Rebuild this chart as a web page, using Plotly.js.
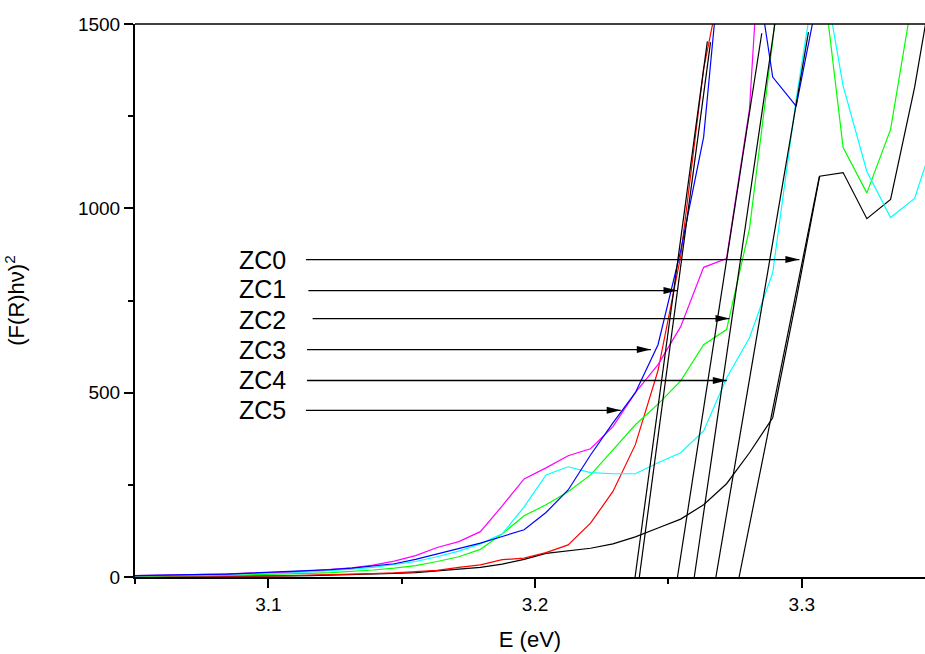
<!DOCTYPE html>
<html>
<head>
<meta charset="utf-8">
<script src="https://cdn.plot.ly/plotly-3.0.1.min.js"></script>
<style>html,body{margin:0;padding:0;background:#fff;}</style>
</head>
<body>
<div id="chart" style="width:925px;height:654px;"></div>
<script>
// Photon energy (eV), one point per wavelength step
const energy = [3.0467, 3.0542, 3.0617, 3.0693, 3.0769, 3.0846, 3.0923, 3.1000, 3.1078, 3.1156,
  3.1234, 3.1313, 3.1392, 3.1472, 3.1552, 3.1633, 3.1714, 3.1795, 3.1877, 3.1959,
  3.2041, 3.2124, 3.2208, 3.2292, 3.2376, 3.2461, 3.2546, 3.2632, 3.2718, 3.2804,
  3.2891, 3.2979, 3.3067, 3.3155, 3.3244, 3.3333, 3.3423, 3.3514];

// (F(R)hv)^2 series
const blackVals = [1,1,1,1,1.2,1.5,2,2.5,3,4,5,6,8,10,12,16,21,26,35,48,64,71,78,90,109,133,157,196,253,337,432,752,1087,1097,972,1024,1328,1710];
const redVals = [1,1,1,1.2,1.5,2,2.5,3,3.5,4.5,5.5,7,9,11,14,18,26,33,47,51,66,87,146,232,359,560,870,1378,1690];
const blueVals = [3.5,4,5,6,7,8,10,12,14,17,20,24,29,36,48,63,77,92,110,128,175,236,331,418,500,630,885,1193,1850,1770,1356,1277,1600];
const magentaVals = [3.5,4,5,6,7,8.5,10,12,14,17,20,25,32,43,58,80,96,123,193,266,296,329,348,408,500,576,679,840,864,1269,2300];
const cyanVals = [3,3,4,5,6,7,8,10,12,14,17,21,26,33,42,55,70,90,117,190,277,299,283,280,280,310,337,396,540,649,825,1296,1700,1332,1100,975,1027,1228];
const greenVals = [2,2,2.5,3,3.5,4.5,5.5,6.5,8,10,12,15,19,24,31,42,55,75,117,166,196,231,277,345,413,469,532,630,671,945,1454,2070,1700,1165,1042,1214,1600,2000];

// Tangent (extrapolation) lines: start on the energy axis, end point
const tangentStartE = [3.2765, 3.2391, 3.2597, 3.2375, 3.2678, 3.2534];
const tangentEndE   = [3.3066, 3.2658, 3.2900, 3.2646, 3.3025, 3.2850];
const tangentEndY   = [1087, 1451, 1505, 1453, 1478, 1475];

// Labels
const sampleNames = ['ZC0', 'ZC1', 'ZC2', 'ZC3', 'ZC4', 'ZC5'];
const xTicks = [3.1, 3.2, 3.3];
const yTicks = [0, 500, 1000, 1500];

const FONT = 'Arial, "Liberation Sans", sans-serif';

function curve(vals, color) {
  return {
    x: energy.slice(0, vals.length), y: vals, type: 'scatter', mode: 'lines',
    line: {color: color, width: 1.2}, hoverinfo: 'skip'
  };
}

const traces = [
  curve(blackVals, '#000000'),
  curve(redVals, '#ff0000'),
  curve(greenVals, '#00ff00'),
  curve(cyanVals, '#00ffff'),
  curve(magentaVals, '#ff00ff'),
  curve(blueVals, '#0000ff')
];
for (let i = 0; i < tangentStartE.length; i++) {
  traces.push({
    x: [tangentStartE[i], tangentEndE[i]], y: [0, tangentEndY[i]],
    type: 'scatter', mode: 'lines', line: {color: '#000', width: 1.2}, hoverinfo: 'skip'
  });
}

// Arrow placement (layout annotations)
const labelStartE = 3.0881;
const labelY  = [859, 780, 698, 617, 535, 454];
const arrowY  = [861, 777, 701, 617, 533, 452];
const arrowTailE = [3.1141, 3.1150, 3.1166, 3.1145, 3.1145, 3.1141];
const arrowTipE  = [3.2991, 3.2534, 3.2729, 3.2434, 3.2719, 3.2321];

const shapes = [
  {type: 'line', xref: 'paper', yref: 'paper', x0: 0, x1: 1, y0: 1, y1: 1, line: {color: '#000', width: 1.3}}
];
const annotations = [];
for (let i = 0; i < sampleNames.length; i++) {
  annotations.push({
    x: labelStartE, y: labelY[i], xref: 'x', yref: 'y', xanchor: 'left', yanchor: 'middle',
    text: sampleNames[i], showarrow: false, font: {family: FONT, size: 25, color: '#000'}
  });
  shapes.push({
    type: 'line', xref: 'x', yref: 'y', x0: arrowTailE[i], x1: arrowTipE[i], y0: arrowY[i], y1: arrowY[i],
    line: {color: '#000', width: 1.3}
  });
  shapes.push({
    type: 'path', xref: 'x', yref: 'y', xsizemode: 'pixel', ysizemode: 'pixel',
    xanchor: arrowTipE[i], yanchor: arrowY[i],
    path: 'M0,0 L-14,3.5 L-14,-3.5 Z', fillcolor: '#000', line: {width: 0}
  });
}

const layout = {
  width: 925, height: 654,
  margin: {l: 135, r: 0, t: 24, b: 77},
  paper_bgcolor: '#fff', plot_bgcolor: '#fff',
  showlegend: false,
  font: {family: FONT, color: '#000'},
  xaxis: {
    range: [3.05, 3.3462], tickmode: 'array', tickvals: xTicks, ticktext: xTicks.map(v => v.toFixed(1)),
    ticks: 'outside', ticklen: 9, tickwidth: 2, tickcolor: '#000',
    showline: true, linewidth: 2, linecolor: '#000', showgrid: false, zeroline: false,
    minor: {tickmode: 'array', tickvals: [3.05, 3.15, 3.25], ticks: 'outside', ticklen: 5, tickwidth: 2, tickcolor: '#000', showgrid: false},
    tickfont: {family: FONT, size: 19, color: '#000'},
    title: {text: 'E (eV)', font: {family: FONT, size: 22, color: '#000'}, standoff: 18},
    automargin: false
  },
  yaxis: {
    range: [0, 1500], tickmode: 'array', tickvals: yTicks, ticktext: yTicks.map(String),
    ticks: 'outside', ticklen: 9, tickwidth: 2, tickcolor: '#000',
    showline: true, linewidth: 2, linecolor: '#000', showgrid: false, zeroline: false,
    minor: {tickmode: 'array', tickvals: [250, 750, 1250], ticks: 'outside', ticklen: 5, tickwidth: 2, tickcolor: '#000', showgrid: false},
    tickfont: {family: FONT, size: 19, color: '#000'},
    title: {text: '(F(R)h\u03bd)<sup>2</sup>', font: {family: FONT, size: 22, color: '#000'}, standoff: 47},
    automargin: false
  },
  shapes: shapes,
  annotations: annotations
};

Plotly.newPlot('chart', traces, layout, {staticPlot: true, displayModeBar: false});
</script>
</body>
</html>
